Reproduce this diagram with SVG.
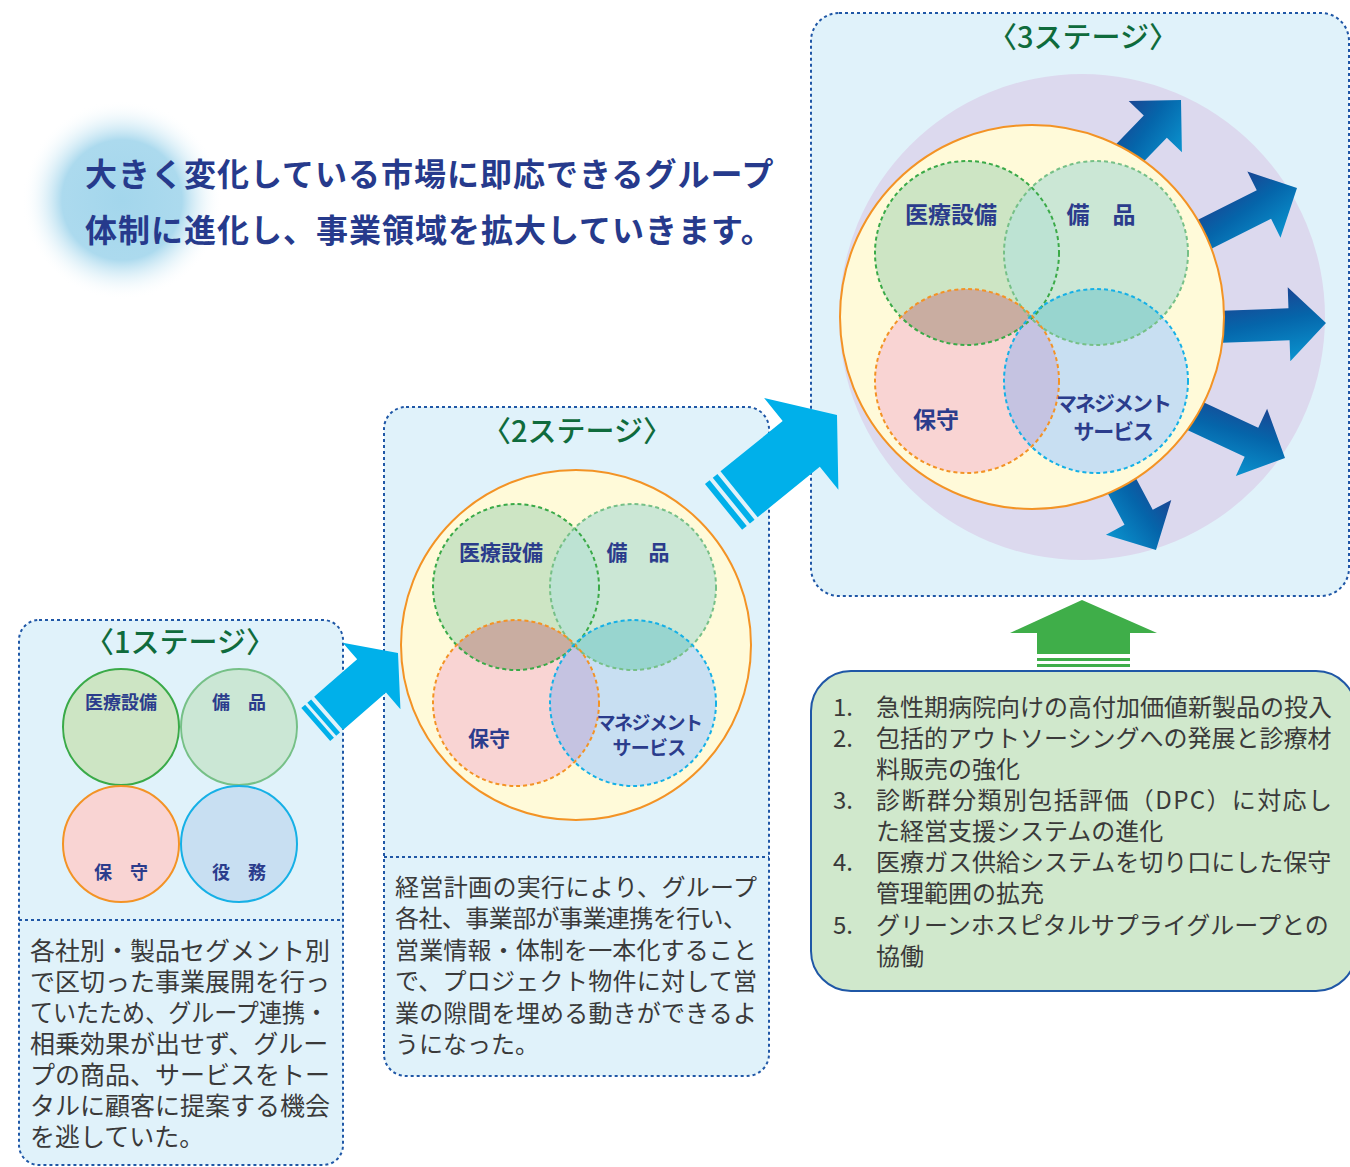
<svg xmlns="http://www.w3.org/2000/svg" width="1350" height="1167" viewBox="0 0 1350 1167">
<style>
text{font-family:"Noto Sans CJK JP","Noto Sans",sans-serif}
.stage{fill:#e0f2fa;stroke:#1f57a6;stroke-width:2;stroke-dasharray:3 3}
.div{stroke:#1f57a6;stroke-width:2;stroke-dasharray:3 3;fill:none}
.title{fill:#0f6b3c;font-size:29px;font-weight:500;text-anchor:middle}
.lbl{fill:#2b3c8c;font-weight:bold;text-anchor:middle}
.body{fill:#3a3a3a;font-size:24px}
.b25{fill:#3a3a3a;font-size:25px}
.head{fill:#263a8c;font-size:32px;font-weight:bold;letter-spacing:1px}
.cA{fill:#cde5c4}.cB{fill:#cbe7d5}.cC{fill:#f9d4d3}.cD{fill:#c8dff2}
.sA{fill:none;stroke:#3aaa48;stroke-width:2;stroke-dasharray:4 3}
.sB{fill:none;stroke:#76c087;stroke-width:2;stroke-dasharray:4 3}
.sC{fill:none;stroke:#f39325;stroke-width:2;stroke-dasharray:4 3}
.sD{fill:none;stroke:#16b0e6;stroke-width:2;stroke-dasharray:4 3}
.oAB{fill:#bde3d3}.oAC{fill:#c9ada1}.oBD{fill:#98d5cf}.oCD{fill:#c5c3e1}
.yel{fill:#fffad9;stroke:#f39325;stroke-width:2}
.cyanArrow{fill:#00b0ea}
.blueArrow{fill:url(#gArrow)}
</style>
<defs>
<radialGradient id="glow" cx="0.5" cy="0.5" r="0.5">
<stop offset="0" stop-color="#a3d6ec"/>
<stop offset="0.6" stop-color="#acdaee"/>
<stop offset="1" stop-color="#ffffff" stop-opacity="0"/>
</radialGradient>
<linearGradient id="gArrow" x1="0.3" y1="0" x2="0.6" y2="1">
<stop offset="0" stop-color="#213c8c"/>
<stop offset="0.5" stop-color="#0565aa"/>
<stop offset="1" stop-color="#0a90cc"/>
</linearGradient>
<clipPath id="s2A"><circle cx="516" cy="587" r="83"/></clipPath>
<clipPath id="s2B"><circle cx="633" cy="587" r="83"/></clipPath>
<clipPath id="s2C"><circle cx="516" cy="703" r="83"/></clipPath>
<clipPath id="s3A"><circle cx="967" cy="253" r="92"/></clipPath>
<clipPath id="s3B"><circle cx="1096" cy="253" r="92"/></clipPath>
<clipPath id="s3C"><circle cx="967" cy="381" r="92"/></clipPath>
<path id="bArrow" d="M0,0 L-37,-37 L-37,-16 L-140,-16 L-140,16 L-37,16 L-37,37 Z"/>
</defs>

<rect width="1350" height="1167" fill="#ffffff"/>

<g id="heading">
<ellipse cx="122" cy="200" rx="100" ry="100" fill="url(#glow)"/>
<text class="head" x="85" y="186">大きく変化している市場に即応できるグループ</text>
<text class="head" x="85" y="242">体制に進化し、事業領域を拡大していきます。</text>
</g>

<g id="stage1">
<rect class="stage" x="19" y="620" width="324" height="545" rx="20"/>
<line class="div" x1="19" y1="920" x2="343" y2="920"/>
<text class="title" x="180" y="653">〈1ステージ〉</text>
<circle cx="121" cy="727" r="58" fill="#cde5c4" stroke="#3aaa48" stroke-width="2"/>
<circle cx="239" cy="727" r="58" fill="#cbe7d5" stroke="#76c087" stroke-width="2"/>
<circle cx="121" cy="844" r="58" fill="#f9d4d3" stroke="#f39325" stroke-width="2"/>
<circle cx="239" cy="844" r="58" fill="#c8dff2" stroke="#16b0e6" stroke-width="2"/>
<text class="lbl" x="121" y="709" font-size="18">医療設備</text>
<text class="lbl" x="239" y="709" font-size="18">備　品</text>
<text class="lbl" x="121" y="879" font-size="18">保　守</text>
<text class="lbl" x="239" y="879" font-size="18">役　務</text>
<text class="b25" x="30" y="960">各社別・製品セグメント別</text>
<text class="b25" x="30" y="991">で区切った事業展開を行っ</text>
<text class="b25" x="30" y="1022" textLength="298" lengthAdjust="spacingAndGlyphs">ていたため、グループ連携・</text>
<text class="b25" x="30" y="1053">相乗効果が出せず、グルー</text>
<text class="b25" x="30" y="1084">プの商品、サービスをトー</text>
<text class="b25" x="30" y="1115">タルに顧客に提案する機会</text>
<text class="b25" x="30" y="1146">を逃していた。</text>
</g>

<g id="stage2">
<rect class="stage" x="384" y="407" width="385" height="669" rx="22"/>
<line class="div" x1="384" y1="857" x2="769" y2="857"/>
<text class="title" x="577" y="442">〈2ステージ〉</text>
<circle class="yel" cx="576" cy="645" r="175"/>
<circle class="cA" cx="516" cy="587" r="83"/>
<circle class="cB" cx="633" cy="587" r="83"/>
<circle class="cC" cx="516" cy="703" r="83"/>
<circle class="cD" cx="633" cy="703" r="83"/>
<circle class="oAB" cx="633" cy="587" r="83" clip-path="url(#s2A)"/>
<circle class="oAC" cx="516" cy="703" r="83" clip-path="url(#s2A)"/>
<circle class="oBD" cx="633" cy="703" r="83" clip-path="url(#s2B)"/>
<circle class="oCD" cx="633" cy="703" r="83" clip-path="url(#s2C)"/>
<circle class="sA" cx="516" cy="587" r="83"/>
<circle class="sB" cx="633" cy="587" r="83"/>
<circle class="sC" cx="516" cy="703" r="83"/>
<circle class="sD" cx="633" cy="703" r="83"/>
<text class="lbl" x="501" y="560" font-size="21">医療設備</text>
<text class="lbl" x="638" y="560" font-size="21">備　品</text>
<text class="lbl" x="489" y="746" font-size="21">保守</text>
<text class="lbl" x="649" y="730" font-size="19" letter-spacing="-1.5">マネジメント</text>
<text class="lbl" x="649" y="755" font-size="19" letter-spacing="-0.7">サービス</text>
<text class="body" x="395" y="896" textLength="362">経営計画の実行により、グループ</text>
<text class="body" x="395" y="927" textLength="352">各社、事業部が事業連携を行い、</text>
<text class="body" x="395" y="959" textLength="362">営業情報・体制を一本化すること</text>
<text class="body" x="395" y="990" textLength="362">で、プロジェクト物件に対して営</text>
<text class="body" x="395" y="1022" textLength="362">業の隙間を埋める動きができるよ</text>
<text class="body" x="395" y="1053">うになった。</text>
</g>

<g id="stage3">
<rect class="stage" x="811" y="13" width="538" height="583" rx="28"/>
<text class="title" x="1083" y="48">〈3ステージ〉</text>
<circle cx="1082" cy="317" r="243" fill="#dcd9ee"/>
<use href="#bArrow" class="blueArrow" transform="translate(1181,100) rotate(-46)"/>
<use href="#bArrow" class="blueArrow" transform="translate(1297,188) rotate(-26.6)"/>
<use href="#bArrow" class="blueArrow" transform="translate(1326,323) rotate(-2)"/>
<use href="#bArrow" class="blueArrow" transform="translate(1285,458) rotate(25)"/>
<use href="#bArrow" class="blueArrow" transform="translate(1156,550) rotate(62)"/>
<circle class="yel" cx="1032" cy="317" r="192"/>
<circle class="cA" cx="967" cy="253" r="92"/>
<circle class="cB" cx="1096" cy="253" r="92"/>
<circle class="cC" cx="967" cy="381" r="92"/>
<circle class="cD" cx="1096" cy="381" r="92"/>
<circle class="oAB" cx="1096" cy="253" r="92" clip-path="url(#s3A)"/>
<circle class="oAC" cx="967" cy="381" r="92" clip-path="url(#s3A)"/>
<circle class="oBD" cx="1096" cy="381" r="92" clip-path="url(#s3B)"/>
<circle class="oCD" cx="1096" cy="381" r="92" clip-path="url(#s3C)"/>
<circle class="sA" cx="967" cy="253" r="92"/>
<circle class="sB" cx="1096" cy="253" r="92"/>
<circle class="sC" cx="967" cy="381" r="92"/>
<circle class="sD" cx="1096" cy="381" r="92"/>
<text class="lbl" x="951" y="223" font-size="23">医療設備</text>
<text class="lbl" x="1101" y="223" font-size="23">備　品</text>
<text class="lbl" x="936" y="428" font-size="23">保守</text>
<text class="lbl" x="1113" y="411" font-size="21" letter-spacing="-2">マネジメント</text>
<text class="lbl" x="1113" y="439" font-size="21" letter-spacing="-1.3">サービス</text>
</g>

<g id="measures">
<rect x="811" y="671" width="545" height="320" rx="40" fill="#d0e8cc" stroke="#1f57a6" stroke-width="2"/>
<text class="body" x="833" y="716">1.</text><text class="body" x="876" y="716">急性期病院向けの高付加価値新製品の投入</text>
<text class="body" x="833" y="747">2.</text><text class="body" x="876" y="747">包括的アウトソーシングへの発展と診療材</text>
<text class="body" x="876" y="778">料販売の強化</text>
<text class="body" x="833" y="809">3.</text><text class="body" x="876" y="809" textLength="456">診断群分類別包括評価（DPC）に対応し</text>
<text class="body" x="876" y="840">た経営支援システムの進化</text>
<text class="body" x="833" y="871">4.</text><text class="body" x="876" y="871">医療ガス供給システムを切り口にした保守</text>
<text class="body" x="876" y="902">管理範囲の拡充</text>
<text class="body" x="833" y="934">5.</text><text class="body" x="876" y="934">グリーンホスピタルサプライグループとの</text>
<text class="body" x="876" y="965">協働</text>
</g>

<g id="connectors">
<g transform="translate(398,653) rotate(-41)" class="cyanArrow">
<path d="M0,0 L-35,-44 L-35,-22 L-92,-22 L-92,22 L-35,22 L-35,44 Z"/>
<rect x="-101" y="-22" width="5" height="44"/>
<rect x="-109" y="-22" width="5" height="44"/>
</g>
<g transform="translate(837,415) rotate(-39)" class="cyanArrow">
<path d="M0,0 L-46,-59 L-46,-29.5 L-126,-29.5 L-126,29.5 L-46,29.5 L-46,59 Z"/>
<rect x="-136" y="-29.5" width="6" height="59"/>
<rect x="-146" y="-29.5" width="6" height="59"/>
</g>
<g fill="#3fae49">
<path d="M1082,600 L1157,633 L1130,633 L1130,654 L1037,654 L1037,633 L1010,633 Z"/>
<rect x="1037" y="658" width="93" height="3"/>
<rect x="1037" y="664" width="93" height="3"/>
</g>
</g>
</svg>
